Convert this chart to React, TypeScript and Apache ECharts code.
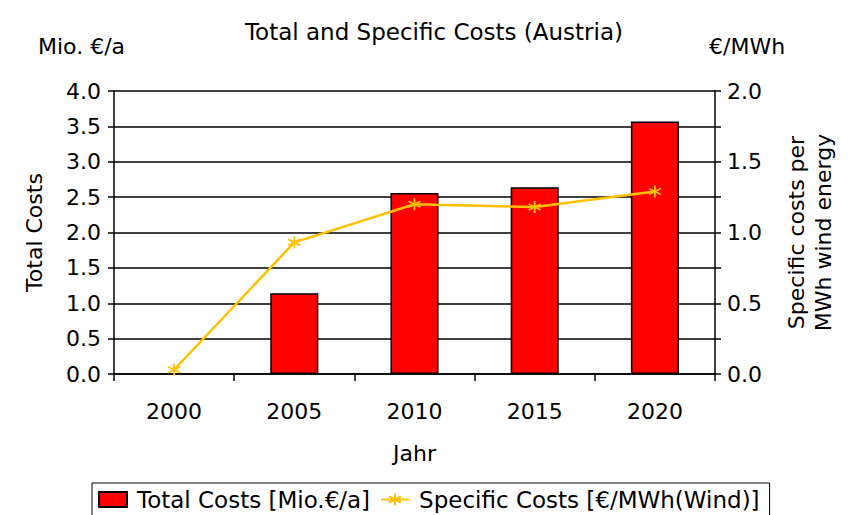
import React, { useEffect, useRef } from "react";
import * as echarts from "echarts";

const years = ["2000", "2005", "2010", "2015", "2020"];
const totalCosts = [null, 1.14, 2.56, 2.64, 3.57];
const specificCosts = [0.03, 0.93, 1.2, 1.18, 1.29];
const leftTicks = { min: 0, max: 4, interval: 0.5 };
const rightTicks = { min: 0, max: 2, interval: 0.25 };

const FONT = "DejaVu Sans, Liberation Sans, Arial, sans-serif";
const FS = 22;
const FS_BIG = 23;
const STAR = "path://M0,-6L0,6M-5.2,-3L5.2,3M-5.2,3L5.2,-3";

export default function App() {
  const ref = useRef<HTMLDivElement>(null);
  useEffect(() => {
    document.body.style.margin = "0";
    if (!ref.current) return;
    const chart = echarts.init(ref.current, null, { renderer: "svg" });
    chart.setOption({
      animation: false,
      backgroundColor: "#fff",
      textStyle: { fontFamily: FONT, color: "#000" },
      title: {
        text: "Total and Specific Costs (Austria)",
        left: 429,
        top: 15,
        textAlign: "center",
        textStyle: { fontFamily: FONT, fontSize: FS_BIG, fontWeight: "normal", color: "#000" },
      },
      graphic: [
        { type: "text", left: 38, top: 35, style: { text: "Mio. €/a", font: `${FS}px ${FONT}`, fill: "#000" } },
        { type: "text", left: 709, top: 35, style: { text: "€/MWh", font: `${FS}px ${FONT}`, fill: "#000" } },
      ],
      grid: { left: 114, right: 135, top: 91, bottom: 141 },
      legend: {
        left: 92,
        top: 483,
        padding: [5, 10, 8, 6],
        borderColor: "#000",
        borderWidth: 1,
        itemGap: 10,
        itemWidth: 28,
        itemHeight: 15,
        textStyle: { fontFamily: FONT, fontSize: FS_BIG, color: "#000", padding: [0, 0, 0, 5] },
        data: [
          { name: "Total Costs [Mio.€/a]", icon: "rect" },
          { name: "Specific Costs [€/MWh(Wind)]" },
        ],
      },
      xAxis: {
        type: "category",
        data: years,
        boundaryGap: true,
        name: "Jahr",
        nameLocation: "middle",
        nameGap: 68,
        nameTextStyle: { fontFamily: FONT, fontSize: FS, color: "#000" },
        axisLine: { lineStyle: { color: "#000", width: 1.5 } },
        axisTick: { show: true, length: 7, lineStyle: { color: "#000", width: 1.5 } },
        axisLabel: { fontFamily: FONT, fontSize: FS, color: "#000", margin: 26 },
      },
      yAxis: [
        {
          type: "value",
          ...leftTicks,
          position: "left",
          name: "Total Costs",
          nameLocation: "middle",
          nameRotate: 90,
          nameGap: 69,
          nameTextStyle: { fontFamily: FONT, fontSize: FS, color: "#000" },
          axisLine: { show: true, lineStyle: { color: "#000", width: 1.5 } },
          axisTick: { show: true, length: 6, lineStyle: { color: "#000", width: 1.5 } },
          axisLabel: { fontFamily: FONT, fontSize: FS, color: "#000", margin: 13, formatter: (v: number) => v.toFixed(1) },
          splitLine: { show: true, lineStyle: { color: "#000", width: 1.5 } },
        },
        {
          type: "value",
          ...rightTicks,
          position: "right",
          name: "Specific costs per\nMWh wind energy",
          nameLocation: "middle",
          nameRotate: 90,
          nameGap: 68,
          nameTextStyle: { fontFamily: FONT, fontSize: FS, color: "#000", lineHeight: 27 },
          axisLine: { show: true, lineStyle: { color: "#000", width: 1.5 } },
          axisTick: { show: true, length: 6, lineStyle: { color: "#000", width: 1.5 } },
          axisLabel: {
            fontFamily: FONT,
            fontSize: FS,
            color: "#000",
            margin: 12,
            formatter: (v: number) => (Math.abs(v * 2 - Math.round(v * 2)) < 1e-6 ? v.toFixed(1) : ""),
          },
          splitLine: { show: false },
        },
      ],
      series: [
        {
          name: "Total Costs [Mio.€/a]",
          type: "bar",
          yAxisIndex: 0,
          data: totalCosts,
          barWidth: "40%",
          itemStyle: { color: "#FF0000", borderColor: "#000", borderWidth: 1.5 },
        },
        {
          name: "Specific Costs [€/MWh(Wind)]",
          type: "line",
          yAxisIndex: 1,
          data: specificCosts,
          symbol: STAR,
          symbolSize: 12,
          showSymbol: true,
          lineStyle: { color: "#FFC000", width: 2.5 },
          itemStyle: { color: "#FFC000", borderColor: "#FFC000", borderWidth: 1.8 },
        },
      ],
    });
    return () => chart.dispose();
  }, []);
  return <div ref={ref} style={{ width: 850, height: 515 }} />;
}
